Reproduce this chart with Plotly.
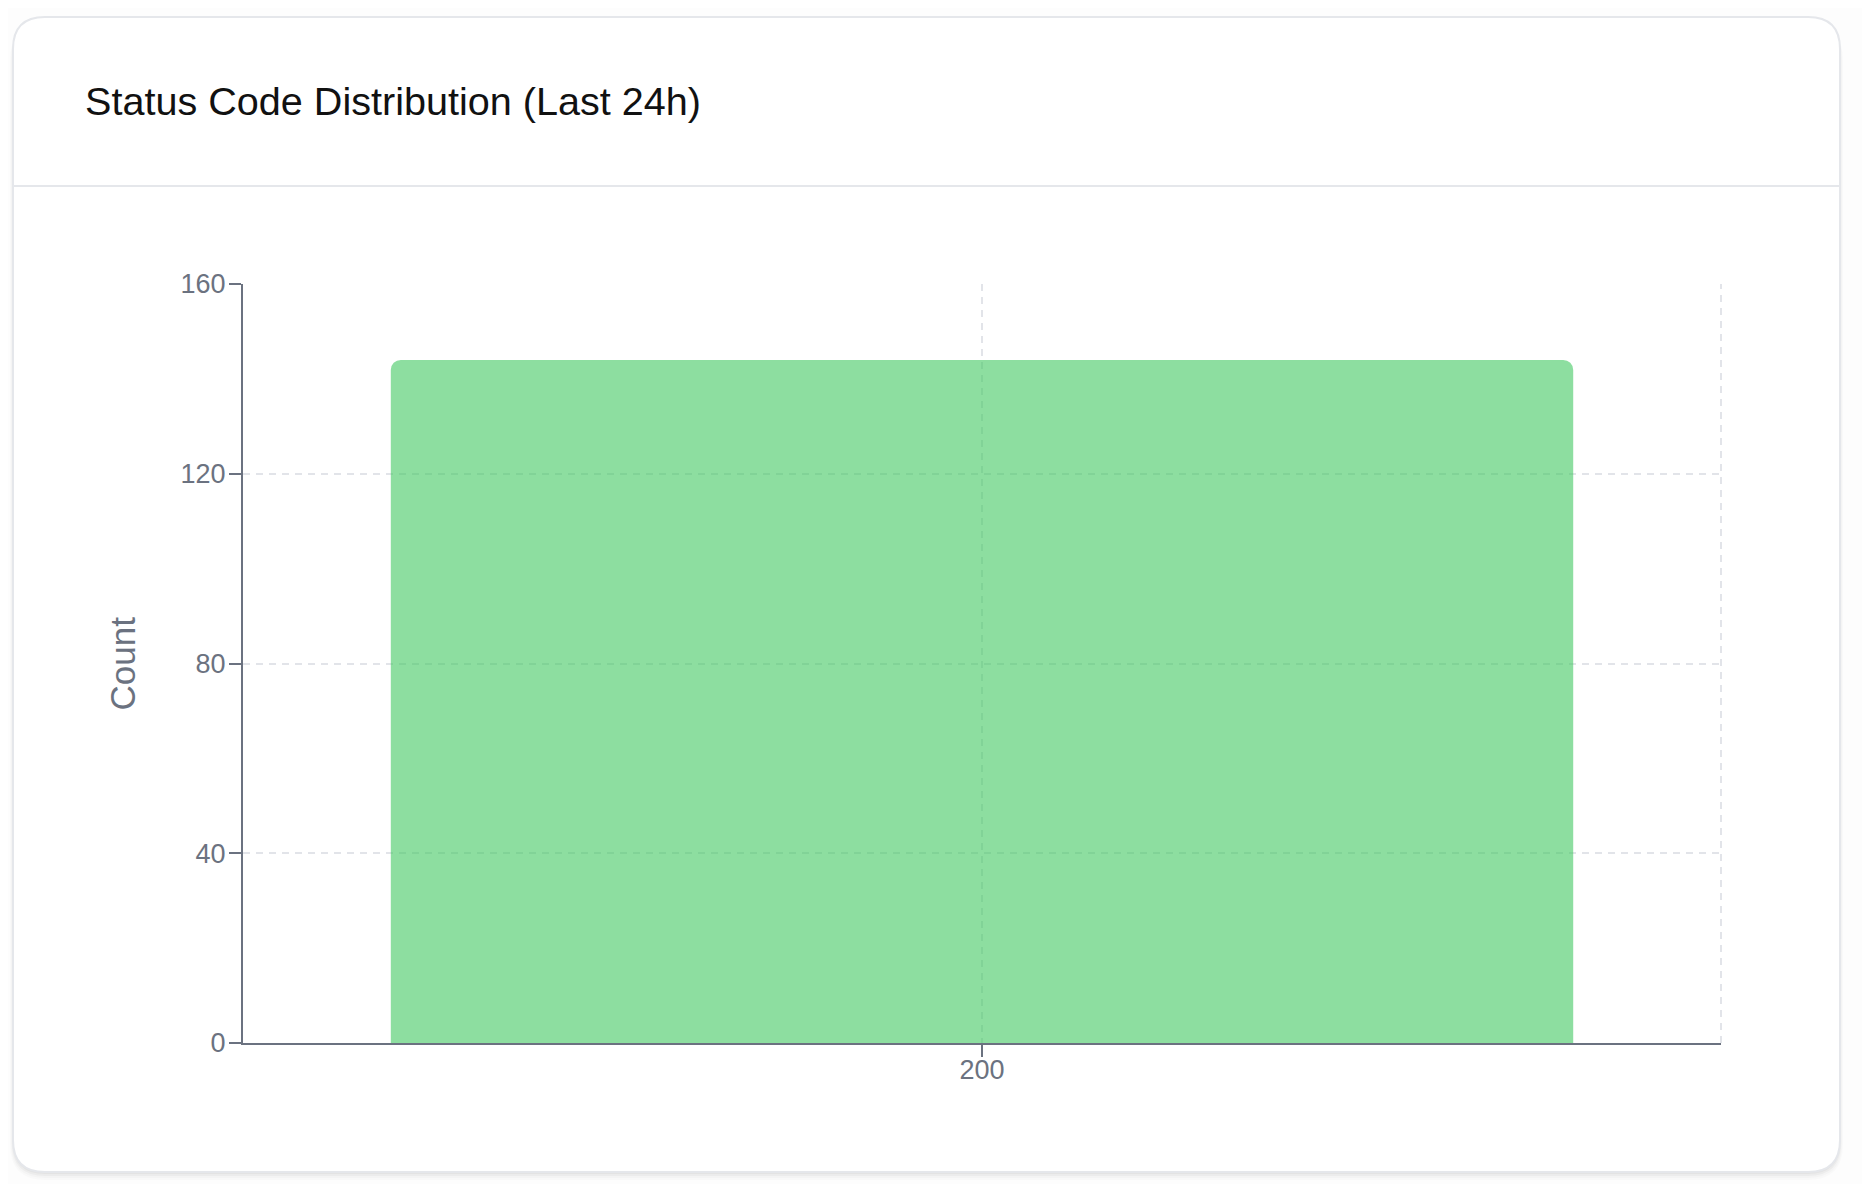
import plotly.graph_objects as go

# Status code counts over the last 24h
status_codes = ["200"]
counts = [144]
y_ticks = [0, 40, 80, 120, 160]

# page has an 8px body margin, so the figure is a bit smaller than the window
W, H = 1854, 1176
L, R, T, B = 235, 141, 276, 141          # plot margins in px
PW, PH = W - L - R, H - T - B

def px(x):
    return (x - L) / PW

def py(y):
    return (H - B - y) / PH

def round_rect(x0, y0, x1, y1, r):
    # rounded rectangle path in paper coords, from pixel corners
    rx, ry = r / PW, r / PH
    a, b, c, d = px(x0), py(y0), px(x1), py(y1)
    return (f"M {a + rx},{b} L {c - rx},{b} Q {c},{b} {c},{b - ry} "
            f"L {c},{d + ry} Q {c},{d} {c - rx},{d} L {a + rx},{d} "
            f"Q {a},{d} {a},{d + ry} L {a},{b - ry} Q {a},{b} {a + rx},{b} Z")

grey = "#6b7280"
grid = "#e2e4e9"
font = "Liberation Sans, Arial, Helvetica, sans-serif"

fig = go.Figure()
fig.add_trace(go.Bar(
    x=status_codes,
    y=counts,
    width=0.8,
    marker=dict(color="rgba(65,200,97,0.6)", line=dict(width=0), cornerradius=10),
    hovertemplate="%{x}: %{y}<extra></extra>",
))

shapes = []
# soft card shadow
for i, alpha in enumerate([0.035, 0.03, 0.02, 0.015]):
    off = 2 + i * 2
    shapes.append(dict(type="path", xref="paper", yref="paper", layer="below",
                       path=round_rect(5 - i, 9 + off, 1832 + i, 1164 + off, 32 + i),
                       fillcolor=f"rgba(0,0,0,{alpha})", line=dict(width=0)))
# card
shapes.append(dict(type="path", xref="paper", yref="paper", layer="below",
                   path=round_rect(5, 9, 1832, 1164, 32),
                   fillcolor="white", line=dict(color="#e5e7eb", width=2)))
# header separator
shapes.append(dict(type="line", xref="paper", yref="paper", layer="below",
                   x0=px(6), x1=px(1831), y0=py(178), y1=py(178),
                   line=dict(color="#e5e7eb", width=2)))
# right dashed grid border
shapes.append(dict(type="line", xref="paper", yref="paper", layer="below",
                   x0=1, x1=1, y0=0, y1=1,
                   line=dict(color=grid, width=2, dash="7px,6px")))

fig.update_layout(
    width=W, height=H,
    margin=dict(l=L, r=R, t=T, b=B),
    paper_bgcolor="#fdfdfd",
    plot_bgcolor="rgba(0,0,0,0)",
    font=dict(family=font, color=grey),
    showlegend=False,
    shapes=shapes,
    title=dict(text="Status Code Distribution (Last 24h)",
               xref="container", yref="container",
               x=77 / W, y=1 - 93 / H, xanchor="left", yanchor="middle",
               font=dict(family=font, size=39.6, color="#111111")),
    annotations=[dict(text="Count", xref="paper", yref="paper",
                      x=px(114), y=0.5, xanchor="center", yanchor="middle",
                      showarrow=False, textangle=-90,
                      font=dict(family=font, size=35, color=grey))],
    xaxis=dict(
        type="category", range=[-0.5, 0.5],
        showline=True, linecolor=grey, linewidth=2,
        ticks="outside", ticklen=12, tickwidth=2, tickcolor=grey,
        tickfont=dict(size=27, color=grey),
        ticklabelstandoff=-10,
        showgrid=True, gridcolor=grid, gridwidth=2, griddash="7px,6px",
        fixedrange=True,
    ),
    yaxis=dict(
        range=[0, 160], tickvals=y_ticks,
        showline=True, linecolor=grey, linewidth=2,
        ticks="outside", ticklen=12, tickwidth=2, tickcolor=grey,
        tickfont=dict(size=27, color=grey),
        ticklabelstandoff=-2,
        showgrid=True, gridcolor=grid, gridwidth=2, griddash="7px,6px",
        zeroline=False, fixedrange=True,
    ),
)

fig.write_html("out.html")
